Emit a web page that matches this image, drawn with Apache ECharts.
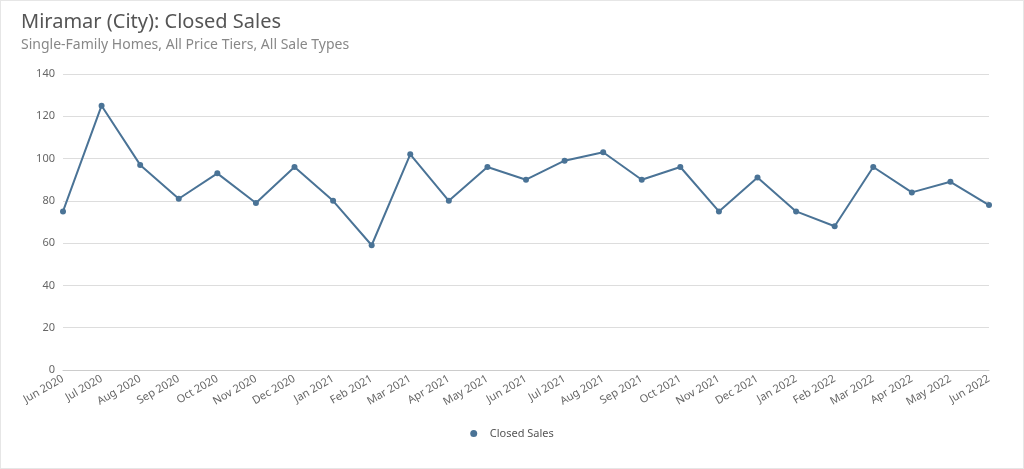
<!DOCTYPE html>
<html><head><meta charset="utf-8">
<script src="https://cdn.jsdelivr.net/npm/echarts@6/dist/echarts.min.js"></script>
<style>html,body{margin:0;padding:0;background:#fff}#c{width:1024px;height:469px;box-sizing:border-box;border:1px solid #e6e6e6}</style>
</head><body><div id="c"></div>
<script>
const categories=['Jun 2020','Jul 2020','Aug 2020','Sep 2020','Oct 2020','Nov 2020','Dec 2020','Jan 2021','Feb 2021','Mar 2021','Apr 2021','May 2021','Jun 2021','Jul 2021','Aug 2021','Sep 2021','Oct 2021','Nov 2021','Dec 2021','Jan 2022','Feb 2022','Mar 2022','Apr 2022','May 2022','Jun 2022'];
const closedSales=[75,125,97,81,93,79,96,80,59,102,80,96,90,99,103,90,96,75,91,75,68,96,84,89,78];
const chart=echarts.init(document.getElementById('c'));
chart.setOption({
  animation:false,
  textStyle:{fontFamily:'Noto Sans'},
  title:{text:'Miramar (City): Closed Sales',subtext:'Single-Family Homes, All Price Tiers, All Sale Types',left:15,top:6,itemGap:6,
    textStyle:{fontSize:20,fontWeight:'normal',color:'#555'},subtextStyle:{fontSize:14,color:'#888'}},
  legend:{bottom:24,left:'center',icon:'circle',itemWidth:22,itemHeight:7,textStyle:{fontSize:11,color:'#555'},data:['Closed Sales']},
  grid:{left:62,right:34,top:73,bottom:98},
  xAxis:{type:'category',data:categories,boundaryGap:false,axisTick:{show:false},
    axisLine:{lineStyle:{color:'#ccc'}},axisLabel:{rotate:30,fontSize:11,color:'#666',interval:0}},
  yAxis:{type:'value',min:0,max:140,interval:20,axisLabel:{fontSize:11,color:'#666'},splitLine:{lineStyle:{color:'#ddd'}}},
  series:[{name:'Closed Sales',type:'line',data:closedSales,symbol:'circle',symbolSize:6,
    itemStyle:{color:'#4a7396'},lineStyle:{color:'#4a7396',width:2}}]
});
</script></body></html>
